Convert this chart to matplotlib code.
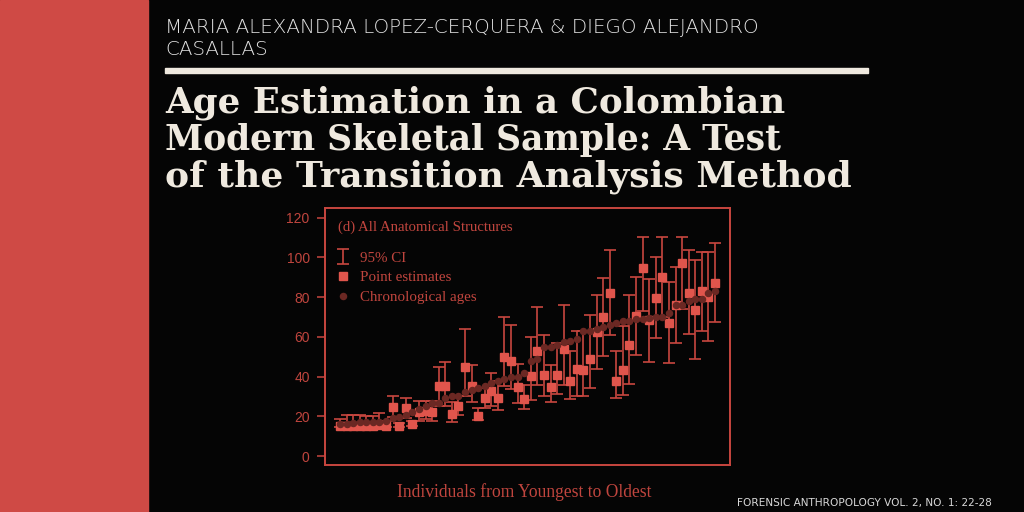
import matplotlib
matplotlib.use("Agg")
import matplotlib.pyplot as plt
from matplotlib.patches import Rectangle
import numpy as np

# ---------------- data ----------------
point_est = [15, 15, 15, 15, 15, 15, 15.5, 15, 24.5, 15, 24, 16, 22, 22.5, 22,
             35, 35, 21, 25, 45, 35, 20, 29, 32.5, 29, 50, 48, 34.5, 28.5, 40.5,
             53, 41, 34.5, 41, 54, 38, 44, 43.5, 49, 62.5, 70, 82, 38, 43.5, 56,
             70.5, 94.5, 68.5, 79.5, 90, 67, 76, 97, 82, 73.5, 83, 80, 87]
ci_low = [14.5, 14.5, 14.5, 14.5, 14.5, 14.5, 14.5, 14.5, 19.5, 14.5, 19, 15, 17.5, 18.5, 17.5,
          25, 25, 17, 20.5, 30, 27, 18, 24, 25, 23, 35, 33.5, 26.5, 23.5, 28,
          36, 30, 27, 31, 35.5, 28.5, 30, 30, 34, 44, 50.5, 61, 29, 30.5, 36.5,
          51, 73, 47.5, 59.5, 70, 47, 57, 74, 61.5, 49, 63, 58, 67.5]
ci_high = [18.5, 20.5, 20.5, 20.5, 20, 20, 21.5, 17.5, 30, 16.5, 29, 17.5, 27.5, 27.5, 27.5,
           45, 47.5, 27, 30, 64, 46, 24, 34, 42, 38, 70, 66, 46.5, 36, 60,
           75, 61, 46, 57, 76, 53, 63, 63, 71, 81, 89.5, 103.5, 53, 65.5, 81,
           90, 110, 89, 100, 110, 87.5, 95, 110, 103.5, 98.5, 102.5, 102.5, 107]
chrono_age = [16, 16, 16.5, 17, 17, 17, 17, 17.5, 19, 19.5, 20.5, 22, 23.5, 25, 26.5,
              26.5, 29, 30, 30, 32, 33, 34, 35, 37, 38, 39, 40, 40, 42, 48,
              49, 55, 55, 56, 57.5, 58, 59, 63, 63, 64, 65, 66, 67, 68, 68,
              69, 69, 69.5, 70, 70, 72, 76, 76, 78, 79, 79, 82, 83]
y_ticks = [0, 20, 40, 60, 80, 100, 120]

title_lines = ["Age Estimation in a Colombian",
               "Modern Skeletal Sample: A Test",
               "of the Transition Analysis Method"]
author_lines = ["MARIA ALEXANDRA LOPEZ-CERQUERA & DIEGO ALEJANDRO", "CASALLAS"]
journal = "FORENSIC ANTHROPOLOGY VOL. 2, NO. 1: 22-28"
panel_title = "(d) All Anatomical Structures"
x_label = "Individuals from Youngest to Oldest"
legend_labels = ["95% CI", "Point estimates", "Chronological ages"]

# ---------------- style ----------------
W, H = 1024, 512
BG = "#050505"
BAND = "#cf4a45"
CREAM = "#efe9df"
FRAME = "#c8463f"
SQ = "#e0554c"
DOT = "#6b2823"
TXT = "#c0453e"

fig = plt.figure(figsize=(W / 100, H / 100), dpi=100, facecolor=BG)
renderer = fig.canvas.get_renderer()


def px(x, y):
    return x / W, 1 - y / H


def fit_text(x, y, s, target_w, size0=20, **kw):
    t = fig.text(*px(x, y), s, fontsize=size0, va="baseline", ha="left", **kw)
    bb = t.get_window_extent(renderer)
    t.set_fontsize(size0 * target_w / bb.width)
    return t


# red band
fig.patches.append(Rectangle((0, 0), 148 / W, 1, transform=fig.transFigure,
                             color=BAND, zorder=0))
# rule
fig.patches.append(Rectangle(px(165, 73), (868 - 165) / W, 5 / H,
                             transform=fig.transFigure, color=CREAM, zorder=1))

# authors
AUTH = dict(family="DejaVu Sans", weight="light", color="#e2e2e2")
ta = fit_text(165, 33, author_lines[0], 592, **AUTH)
fig.text(*px(165, 55), author_lines[1], fontsize=ta.get_fontsize(), va="baseline",
         ha="left", **AUTH)

# title
tw = [620, 618, 686]
tb = [113, 150, 187]
for s, w, b in zip(title_lines, tw, tb):
    fit_text(165, b, s, w, family="DejaVu Serif", weight="bold", color=CREAM)

# journal footer
fit_text(737, 506, journal, 256, family="DejaVu Sans", color="#d8d8d8")

# ---------------- chart ----------------
ax = fig.add_axes([325 / W, (H - 465) / H, 405 / W, 257 / H])
ax.set_facecolor(BG)
n = len(point_est)
idx = np.arange(1, n + 1)
pe = np.array(point_est)
lo = np.array(ci_low)
hi = np.array(ci_high)

eb = ax.errorbar(idx, pe, yerr=[pe - lo, hi - pe], fmt="none", ecolor=FRAME,
                 elinewidth=1.2, capsize=4.2, capthick=1.2, zorder=2,
                 label=legend_labels[0])
sq, = ax.plot(idx, pe, ls="none", marker="s", ms=5.4, mfc=SQ, mec=SQ, zorder=3,
              label=legend_labels[1])
dt, = ax.plot(idx, chrono_age, ls="none", marker="o", ms=4.4, mfc=DOT, mec=DOT,
              zorder=4, label=legend_labels[2])

ext = 0.04 * (n - 1)
ax.set_xlim(1 - ext, n + ext)
ax.set_ylim(-4.5, 124.8)
ax.set_xticks([])
ax.set_yticks(y_ticks)
ax.tick_params(axis="y", colors=FRAME, labelcolor=TXT, length=6, width=1.1,
               pad=5, labelsize=10)
for lab in ax.get_yticklabels():
    lab.set_family("Liberation Sans")
for sp in ax.spines.values():
    sp.set_color(FRAME)
    sp.set_linewidth(1.4)

# panel title and x label
fit_text(338, 231, panel_title, 174, family="Liberation Serif", color=TXT)
fit_text(397, 497, x_label, 255, family="Liberation Serif", color=TXT)

leg = ax.legend(handles=[eb, sq, dt], labels=legend_labels, loc="upper left",
                bbox_to_anchor=px(337, 251), bbox_transform=fig.transFigure,
                frameon=False, prop={"family": "Liberation Serif", "size": 10.8},
                handlelength=0.8, handletextpad=0.7, labelspacing=0.42,
                borderpad=0, borderaxespad=0, markerscale=1.0)
for t in leg.get_texts():
    t.set_color(TXT)

fig.savefig("out.png", dpi=100, facecolor=BG)
